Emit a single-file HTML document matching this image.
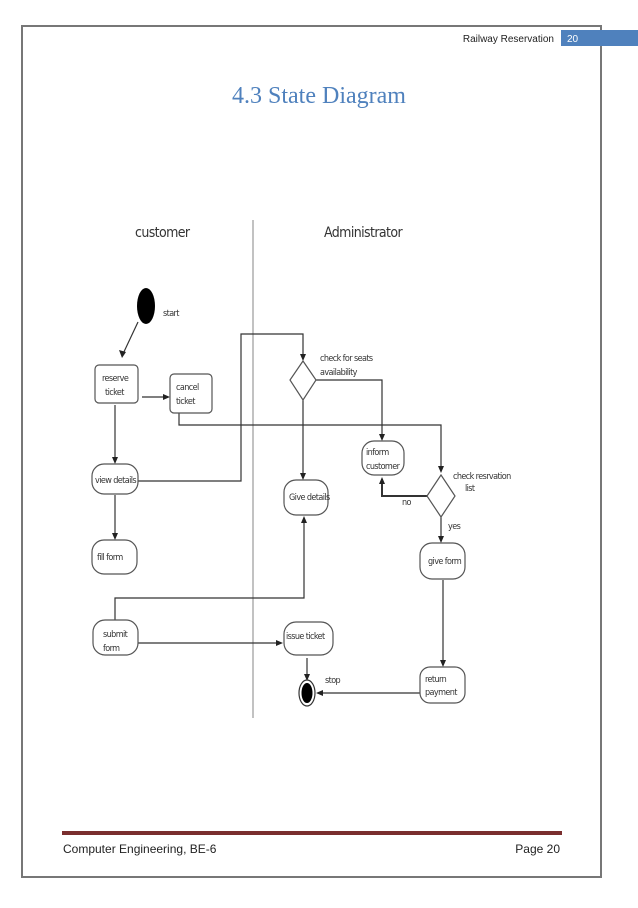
<!DOCTYPE html>
<html><head><meta charset="utf-8"><style>
body{margin:0;background:#fff;}
</style></head><body>
<svg width="638" height="903" viewBox="0 0 638 903" xmlns="http://www.w3.org/2000/svg" font-family="Liberation Sans, sans-serif">
<rect width="638" height="903" fill="#fff"/>
<rect x="22" y="26" width="579" height="851" fill="none" stroke="#777" stroke-width="2"/>
<rect x="561" y="30" width="77" height="16" fill="#4f81bd"/>
<text x="567" y="42" font-size="10" fill="#fff">20</text>
<text x="554" y="42" font-size="10" fill="#222" text-anchor="end">Railway Reservation</text>
<text x="319" y="103" font-size="24" fill="#4f81bd" text-anchor="middle" font-family="Liberation Serif, serif">4.3 State Diagram</text>
<g stroke="#333" fill="none" stroke-width="1.2">
<line x1="253" y1="220" x2="253" y2="718" stroke="#999"/>
<line x1="138" y1="322" x2="122" y2="356"/>
<line x1="142" y1="397" x2="168" y2="397"/>
<polyline points="179,413 179,425 441,425 441,471"/>
<line x1="115" y1="405" x2="115" y2="462"/>
<polyline points="138,481 241,481 241,334 303,334 303,359"/>
<polyline points="316,380 382,380 382,439"/>
<line x1="303" y1="400" x2="303" y2="478"/>
<polyline points="427,496 382,496 382,479" stroke-width="2"/>
<line x1="441" y1="517" x2="441" y2="541"/>
<line x1="443" y1="580" x2="443" y2="665"/>
<line x1="420" y1="693" x2="318" y2="693"/>
<line x1="307" y1="658" x2="307" y2="679"/>
<line x1="115" y1="495" x2="115" y2="538"/>
<line x1="138" y1="643" x2="281" y2="643"/>
<polyline points="115,620 115,598 304,598 304,518"/>
</g>
<g fill="#222">
<polygon points="122,358 119,350 126,352"/>
<polygon points="170,397 163,394 163,400"/>
<polygon points="441,473 438,466 444,466"/>
<polygon points="115,464 112,457 118,457"/>
<polygon points="303,361 300,354 306,354"/>
<polygon points="382,441 379,434 385,434"/>
<polygon points="303,480 300,473 306,473"/>
<polygon points="382,477 379,484 385,484"/>
<polygon points="441,543 438,536 444,536"/>
<polygon points="443,667 440,660 446,660"/>
<polygon points="316,693 323,690 323,696"/>
<polygon points="307,681 304,674 310,674"/>
<polygon points="115,540 112,533 118,533"/>
<polygon points="283,643 276,640 276,646"/>
<polygon points="304,516 301,523 307,523"/>
</g>
<g stroke="#555" fill="#fff" stroke-width="1.2">
<rect x="95" y="365" width="43" height="38" rx="4"/>
<rect x="170" y="374" width="42" height="39" rx="4"/>
<rect x="92" y="464" width="46" height="30" rx="12"/>
<rect x="92" y="540" width="45" height="34" rx="12"/>
<rect x="93" y="620" width="45" height="35" rx="12"/>
<rect x="284" y="480" width="44" height="35" rx="12"/>
<rect x="362" y="441" width="42" height="34" rx="12"/>
<rect x="420" y="543" width="45" height="36" rx="12"/>
<rect x="420" y="667" width="45" height="36" rx="10"/>
<rect x="284" y="622" width="49" height="33" rx="12"/>
<polygon points="303,361 316,380 303,400 290,380"/>
<polygon points="441,475 455,496 441,517 427,496"/>
</g>
<ellipse cx="146" cy="306" rx="9" ry="18" fill="#000"/>
<ellipse cx="307" cy="693" rx="8" ry="13" fill="#fff" stroke="#333" stroke-width="1.2"/>
<ellipse cx="307" cy="693" rx="5.5" ry="10" fill="#000"/>
<g font-size="9" fill="#333" font-family="DejaVu Sans Condensed, Liberation Sans Narrow, sans-serif" letter-spacing="-0.6">
<text x="135" y="237" font-size="14">customer</text>
<text x="324" y="237" font-size="14">Administrator</text>
<text x="163" y="316">start</text>
<text x="102" y="381">reserve</text>
<text x="105" y="395">ticket</text>
<text x="176" y="390">cancel</text>
<text x="176" y="404">ticket</text>
<text x="95" y="483">view details</text>
<text x="97" y="560">fill form</text>
<text x="103" y="637">submit</text>
<text x="103" y="651">form</text>
<text x="289" y="500">Give details</text>
<text x="366" y="455">inform</text>
<text x="366" y="469">customer</text>
<text x="320" y="361">check for seats</text>
<text x="320" y="375">availability</text>
<text x="453" y="479">check resrvation</text>
<text x="465" y="491">list</text>
<text x="402" y="505">no</text>
<text x="448" y="529">yes</text>
<text x="428" y="564">give form</text>
<text x="425" y="682">return</text>
<text x="425" y="695">payment</text>
<text x="286" y="639">issue ticket</text>
<text x="325" y="683">stop</text>
</g>
<rect x="62" y="831" width="500" height="4" fill="#7a2e2e"/>
<text x="63" y="853" font-size="12" fill="#222">Computer Engineering, BE-6</text>
<text x="560" y="853" font-size="12" fill="#222" text-anchor="end">Page 20</text>
</svg>
</body></html>
